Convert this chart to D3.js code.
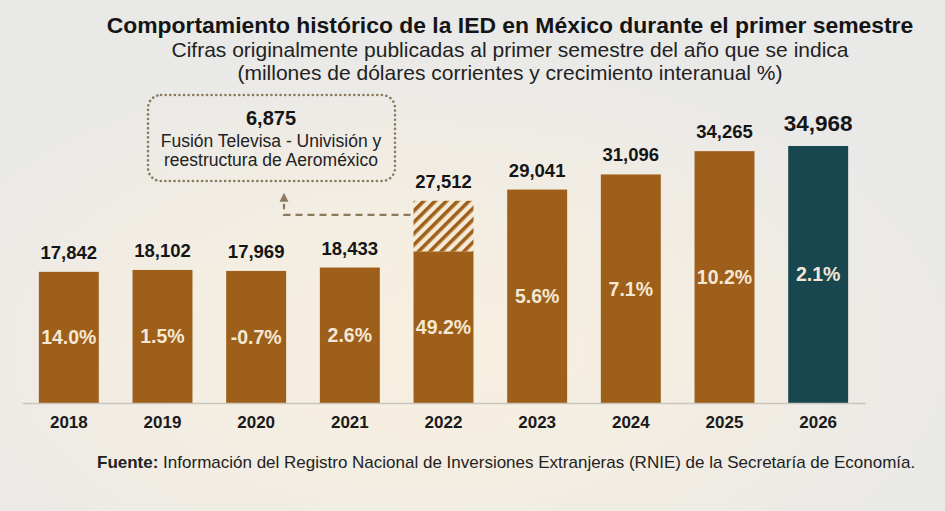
<!DOCTYPE html>
<html><head><meta charset="utf-8">
<script src="https://cdn.jsdelivr.net/npm/d3@7"></script>
<style>
html,body{margin:0;padding:0;background:#ebebea;}
svg{display:block;font-family:"Liberation Sans",Arial,sans-serif;}
</style></head>
<body>
<svg id="chart" width="945" height="511"></svg>
<script>
const years = ["2018","2019","2020","2021","2022","2023","2024","2025","2026"];
const values = [17842,18102,17969,18433,27512,29041,31096,34265,34968];
const growth = ["14.0%","1.5%","-0.7%","2.6%","49.2%","5.6%","7.1%","10.2%","2.1%"];
const highlightYear = "2026";
const extraYear = "2022";
const extraValue = 6875;
const extraLines = ["Fusión Televisa - Univisión y","reestructura de Aeroméxico"];
const title = "Comportamiento histórico de la IED en México durante el primer semestre";
const subtitle = ["Cifras originalmente publicadas al primer semestre del año que se indica",
                  "(millones de dólares corrientes y crecimiento interanual %)"];
const sourceBold = "Fuente:";
const sourceText = " Información del Registro Nacional de Inversiones Extranjeras (RNIE) de la Secretaría de Economía.";

const svg = d3.select("#chart");
const W = 945, H = 511;
const brown = "#9e5f1a", teal = "#18474f";
const fmt = d3.format(",");

const defs = svg.append("defs");
const rg = defs.append("radialGradient").attr("id","bg")
  .attr("cx","0.45").attr("cy","0.68").attr("r","0.6");
rg.append("stop").attr("offset","0").attr("stop-color","#f8efdf");
rg.append("stop").attr("offset","0.55").attr("stop-color","#f2ede3");
rg.append("stop").attr("offset","1").attr("stop-color","#e9e9e8");
svg.append("rect").attr("width",W).attr("height",H).attr("fill","url(#bg)");

const pat = defs.append("pattern").attr("id","hatch")
  .attr("patternUnits","userSpaceOnUse").attr("width",8).attr("height",8)
  .attr("patternTransform","rotate(45)");
pat.append("rect").attr("width",8).attr("height",8).attr("fill","#f5ead6");
pat.append("rect").attr("width",3.6).attr("height",8).attr("fill",brown);

const x = d3.scaleBand().domain(years).range([22,865]).paddingInner(0.36).paddingOuter(0.18);
const y = d3.scaleLinear().domain([0,40000]).range([403,109]);

const data = years.map((yr,i)=>({yr, v:values[i], g:growth[i]}));

// bars
svg.append("g").selectAll("rect").data(data).join("rect")
  .attr("x",d=>x(d.yr)).attr("width",x.bandwidth())
  .attr("y",d=>y(d.yr===extraYear ? d.v-extraValue : d.v))
  .attr("height",d=>y(0)-y(d.yr===extraYear ? d.v-extraValue : d.v))
  .attr("fill",d=>d.yr===highlightYear?teal:brown);

// hatched extra portion
const ex = data.find(d=>d.yr===extraYear);
svg.append("rect").attr("x",x(extraYear)).attr("width",x.bandwidth())
  .attr("y",y(ex.v)).attr("height",y(ex.v-extraValue)-y(ex.v))
  .attr("fill","url(#hatch)");

// axis
const axis = svg.append("g").attr("transform",`translate(0,${y(0)})`)
  .call(d3.axisBottom(x).tickSize(0).tickPadding(13));
axis.select(".domain").attr("stroke","#c9c5bd").attr("stroke-width",1.5);
axis.selectAll("text").attr("font-family","Liberation Sans, Arial, sans-serif")
  .attr("font-size",17).attr("font-weight","bold").attr("fill","#1a1a1a");

// value labels
svg.append("g").selectAll("text").data(data).join("text")
  .attr("x",d=>x(d.yr)+x.bandwidth()/2)
  .attr("y",d=>y(d.v)-(d.yr===highlightYear?15:13))
  .attr("text-anchor","middle").attr("font-weight","bold")
  .attr("font-size",d=>d.yr===highlightYear?22.5:18.5)
  .attr("fill","#151515").text(d=>fmt(d.v));

// growth labels
svg.append("g").selectAll("text").data(data).join("text")
  .attr("x",d=>x(d.yr)+x.bandwidth()/2)
  .attr("y",d=>{const top = y(d.yr===extraYear? d.v-extraValue : d.v); return (top+y(0))/2+7;})
  .attr("text-anchor","middle").attr("font-weight","bold").attr("font-size",19.5)
  .attr("fill","#f4e8d4").text(d=>d.g);

// annotation connector
const cy = y(ex.v)+14, cxEnd = x(extraYear)-3, cxStart = 284;
svg.append("path").attr("d",`M${cxEnd},${cy}H${cxStart}V${cy-11}`)
  .attr("fill","none").attr("stroke","#8c7a5c").attr("stroke-width",2.2)
  .attr("stroke-dasharray","7,5");
svg.append("path").attr("d",`M${cxStart},${cy-22}L${cxStart+4.5},${cy-13}L${cxStart-4.5},${cy-13}Z`)
  .attr("fill","#8c7a5c");

// annotation box
svg.append("rect").attr("x",148).attr("y",95).attr("width",247).attr("height",86).attr("rx",13)
  .attr("fill","none").attr("stroke","#8c7a5c").attr("stroke-width",2.6)
  .attr("stroke-dasharray","0.1,4.5").attr("stroke-linecap","round");
svg.append("text").attr("x",271).attr("y",125).attr("text-anchor","middle")
  .attr("font-weight","bold").attr("font-size",20).attr("fill","#151515").text(fmt(extraValue));
svg.append("g").selectAll("text").data(extraLines).join("text")
  .attr("x",271).attr("y",(d,i)=>147+i*19).attr("text-anchor","middle")
  .attr("font-size",17.5).attr("fill","#222").text(d=>d);

// titles
svg.append("text").attr("x",510).attr("y",33).attr("text-anchor","middle")
  .attr("font-weight","bold").attr("font-size",22.9).attr("fill","#151515").text(title);
svg.append("text").attr("x",510).attr("y",57).attr("text-anchor","middle")
  .attr("font-size",21).attr("fill","#222").text(subtitle[0]);
svg.append("text").attr("x",510).attr("y",80).attr("text-anchor","middle")
  .attr("font-size",21).attr("fill","#222").text(subtitle[1]);

// source
const src = svg.append("text").attr("x",97).attr("y",468).attr("font-size",17).attr("fill","#222");
src.append("tspan").attr("font-weight","bold").text(sourceBold);
src.append("tspan").text(sourceText);
</script>
</body></html>
